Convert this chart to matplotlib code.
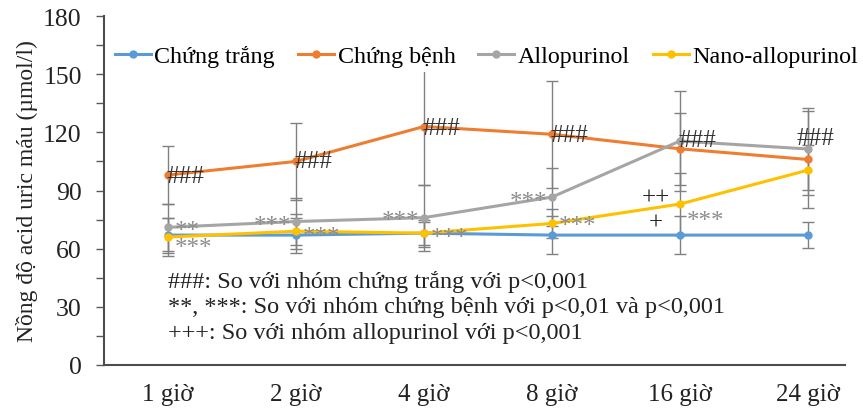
import matplotlib
matplotlib.use("Agg")
import matplotlib.pyplot as plt
from matplotlib.ticker import MultipleLocator

plt.rcParams['font.family'] = ['Liberation Serif', 'DejaVu Serif']

# Time points and series (µmol/l)
times = ["1 giờ", "2 giờ", "4 giờ", "8 giờ", "16 giờ", "24 giờ"]
series_names = ["Chứng trắng", "Chứng bệnh", "Allopurinol", "Nano-allopurinol"]

chung_trang = [67, 67, 68, 67, 67, 67]
chung_benh = [98, 105, 123, 119, 111.5, 106]
allopurinol = [71, 74, 76, 86.6, 115.5, 111.4]
nano_allopurinol = [66, 69, 68, 73, 83, 100.5]

# Standard deviations
sd_chung_trang = [9, 9, 7, 10, 10, 6.5]
sd_chung_benh = [15, 20, 30, 27.5, 18.5, 25]
sd_allopurinol = [12, 12, 17, 15, 26, 21]
sd_nano_allopurinol = [10, 9, 6, 7.5, 16, 13]

# Significance markers: (time index, value level, text)
hash_marks = [(0, 97.5, "###"), (1, 105, "###"), (2, 122, "###"),
              (3, 118.6, "###"), (4, 116, "###")]
star_right = [(0, 69, "**"), (0, 60.5, "***"), (1, 66, "***"),
              (2, 65.5, "***"), (3, 71.7, "***"), (4, 74.3, "***")]
star_left = [(1, 71.7, "***"), (2, 74.3, "***"), (3, 84, "***")]
plus_marks = [(4, 86.6, "++"), (4, 73.7, "+")]
hash_top = (5, 117, "###")

notes = ["###: So với nhóm chứng trắng với p<0,001",
         "**, ***: So với nhóm chứng bệnh với p<0,01 và p<0,001",
         "+++: So với nhóm allopurinol với p<0,001"]

colors = ["#5B9BD5", "#ED7D31", "#A5A5A5", "#FFC000"]
values = [chung_trang, chung_benh, allopurinol, nano_allopurinol]
sds = [sd_chung_trang, sd_chung_benh, sd_allopurinol, sd_nano_allopurinol]

fig = plt.figure(figsize=(8.63, 4.10), dpi=100)
ax = fig.add_axes([104 / 863, 44 / 410, (845 - 104) / 863, 349 / 410])

x = list(range(len(times)))
for vals, sd in zip(values, sds):
    ax.errorbar(x, vals, yerr=sd, fmt='none', ecolor='#808080',
                elinewidth=1.0, capsize=4, capthick=1.0, zorder=2)
for name, vals, c in zip(series_names, values, colors):
    ax.plot(x, vals, color=c, lw=2.2, marker='o', ms=5, label=name, zorder=3)

fs = 18
for i, v, t in hash_marks:
    ax.text(i - 0.01, v, t, ha='left', va='center', fontsize=fs, color='#333333', zorder=4)
ax.text(hash_top[0] + 0.06, hash_top[1], hash_top[2], ha='center', va='center',
        fontsize=fs, color='#333333', zorder=4)
for i, v, t in star_right:
    ax.text(i + 0.05, v, t, ha='left', va='center', fontsize=fs, color='#8C8C8C', zorder=4)
for i, v, t in star_left:
    ax.text(i - 0.04, v, t, ha='right', va='center', fontsize=fs, color='#8C8C8C', zorder=4)
for i, v, t in plus_marks:
    ax.text(i - 0.19, v, t, ha='center', va='center', fontsize=fs, color='#222222', zorder=4)

for k, line in enumerate(notes):
    ax.text(0.0, 43.3 - k * 13.2, line, ha='left', va='center',
            fontsize=17.5, color='#222222')

ax.set_xlim(-0.5, 5.29)
ax.set_ylim(0, 180)
ax.set_xticks(x)
ax.set_xticklabels(times)
ax.yaxis.set_major_locator(MultipleLocator(30))
ax.yaxis.set_minor_locator(MultipleLocator(15))
ax.tick_params(axis='y', which='both', direction='out', length=6, width=1,
               color='#595959', labelsize=18.5, labelcolor='#222222', pad=10)
ax.tick_params(axis='x', length=0, labelsize=18, labelcolor='#222222', pad=13)
for s in ['top', 'right']:
    ax.spines[s].set_visible(False)
for s in ['left', 'bottom']:
    ax.spines[s].set_color('#4D4D4D')
    ax.spines[s].set_linewidth(1.5)

ax.set_ylabel("Nồng độ acid uric máu (µmol/l)", fontsize=17, color='#222222', labelpad=4)

leg = fig.legend(loc='center left', bbox_to_anchor=(110 / 863, (410 - 57) / 410),
                 ncol=4, fontsize=17.3, frameon=True, facecolor='white',
                 edgecolor='none', framealpha=1, handlelength=1.5,
                 handletextpad=0.15, columnspacing=0.95, borderpad=0.2,
                 borderaxespad=0)
leg.set_zorder(10)

fig.savefig("out.png", dpi=100)
